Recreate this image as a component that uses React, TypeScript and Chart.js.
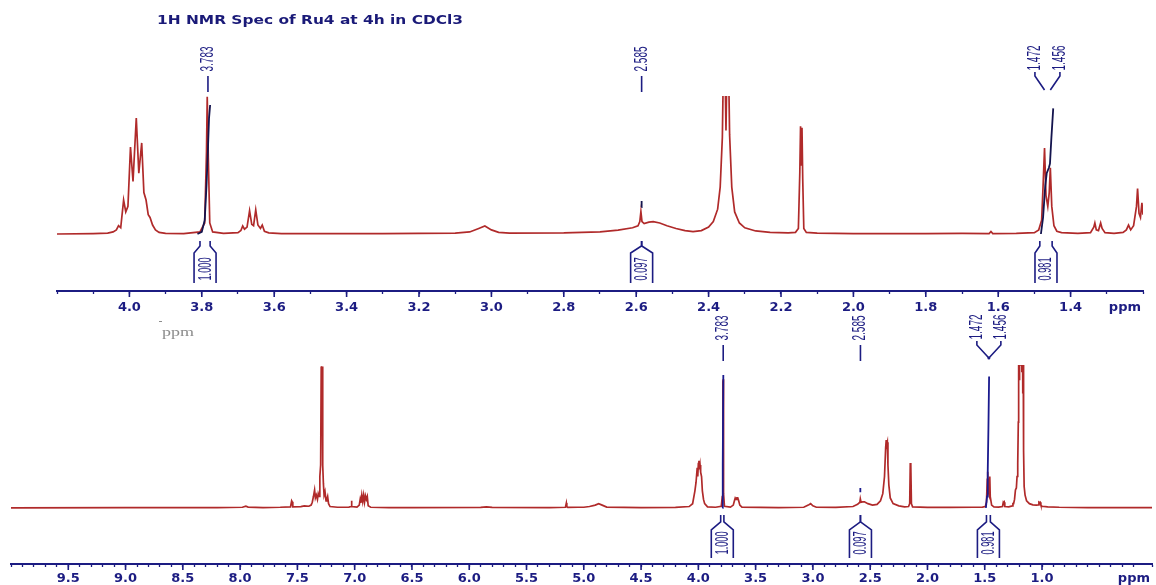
import React, { useEffect, useRef } from "react";
import { Chart, registerables } from "chart.js";

Chart.register(...registerables);

// ---------------- data ----------------
const TITLE = "1H NMR Spec of Ru4 at 4h in CDCl3";

// Upper panel: expanded region 4.2 – 1.2 ppm
const topPpm = [
  4.2, 4.1, 4.06, 4.045, 4.036, 4.03, 4.024, 4.016, 4.01, 4.004, 3.997, 3.99, 3.981, 3.974, 3.966, 3.96,
  3.954, 3.948, 3.943, 3.936, 3.928, 3.918, 3.9, 3.85, 3.805, 3.792, 3.787, 3.785, 3.782, 3.778, 3.77,
  3.74, 3.7, 3.692, 3.687, 3.682, 3.675, 3.668, 3.662, 3.657, 3.651, 3.645, 3.638, 3.633, 3.627, 3.615,
  3.58, 3.3, 3.1, 3.06, 3.035, 3.018, 3.0, 2.98, 2.95, 2.8, 2.7, 2.65, 2.61, 2.595, 2.59, 2.587, 2.584,
  2.578, 2.565, 2.553, 2.535, 2.515, 2.49, 2.465, 2.443, 2.42, 2.4, 2.387, 2.375, 2.368, 2.362, 2.357,
  2.352, 2.347, 2.342, 2.336, 2.328, 2.315, 2.3, 2.27, 2.23, 2.18, 2.16, 2.152, 2.148, 2.146, 2.144,
  2.142, 2.14, 2.137, 2.13, 2.1, 2.0, 1.8, 1.7, 1.625, 1.62, 1.615, 1.55, 1.5, 1.488, 1.48, 1.476, 1.472,
  1.468, 1.463, 1.459, 1.456, 1.452, 1.446, 1.438, 1.425, 1.38, 1.345, 1.336, 1.333, 1.329, 1.323, 1.317,
  1.313, 1.305, 1.28, 1.255, 1.246, 1.24, 1.234, 1.226, 1.218, 1.215, 1.211, 1.207, 1.203, 1.2,
];
const topIntensity = [
  0, 0.3, 0.6, 1.5, 3, 6, 4.5, 24.6, 16, 20, 63, 38, 84, 44, 66, 30,
  24.6, 14, 12, 6.5, 3, 1.2, 0.5, 0.3, 1.5, 8, 60, 99.5, 55, 8, 1.5,
  0.4, 1, 2.5, 5.8, 3.5, 5, 16.9, 7, 6, 17.5, 6.5, 4, 6.5, 2, 0.8,
  0.3, 0.3, 0.6, 1.5, 4, 5.8, 3, 1.2, 0.6, 0.8, 1.6, 2.8, 4.5, 6, 9, 16.2, 9,
  7.5, 8.6, 8.9, 8, 6, 4, 2.5, 1.7, 2.5, 5, 9, 18, 34, 70, 160,
  75, 160, 72, 34, 16, 8, 4.5, 2.2, 1.2, 0.8, 1.2, 4, 45, 78, 50,
  77, 40, 4, 1.2, 0.6, 0.3, 0.3, 0.5, 0.3, 1.8, 0.3, 0.4, 1, 3, 10, 35, 62.3,
  28, 20, 30, 48, 20, 6, 2, 1, 0.5, 1, 5, 8, 3, 2.5, 8,
  4, 1, 0.5, 1.2, 3, 6.5, 3, 6, 20, 33, 15, 12, 22.5, 14,
];
// integral trace (null separates the three integrals)
const topIntegralPpm = [3.812, 3.8, 3.792, 3.787, 3.783, 3.78, 3.777, 3.0, 2.586, 2.585, 2.0, 1.482, 1.476, 1.47, 1.466, 1.46, 1.457, 1.453, 1.448];
const topIntegralValue = [0, 1.5, 10, 35, 62, 84, 93.5, null, 19.5, 24, null, 0, 12, 35, 44, 48, 51, 70, 91];
const topMajorLabels = ["4.0", "3.8", "3.6", "3.4", "3.2", "3.0", "2.8", "2.6", "2.4", "2.2", "2.0", "1.8", "1.6", "1.4"];

// Lower panel: full spectrum 10 – 0 ppm
const botPpm = [
  10.0, 9.0, 8.2, 7.98, 7.95, 7.93, 7.8, 7.65, 7.56, 7.55, 7.546, 7.54, 7.47, 7.44, 7.4, 7.38, 7.37, 7.36,
  7.35, 7.343, 7.335, 7.325, 7.318, 7.31, 7.304, 7.297, 7.292, 7.288, 7.284, 7.279, 7.273, 7.267, 7.259,
  7.25, 7.243, 7.236, 7.228, 7.215, 7.15, 7.05, 7.032, 7.028, 7.024, 6.98, 6.96, 6.952, 6.946, 6.938,
  6.93, 6.922, 6.914, 6.906, 6.898, 6.89, 6.882, 6.86, 6.7, 6.5, 5.9, 5.85, 5.8, 5.3, 5.16, 5.152, 5.148,
  5.14, 5.05, 5.0, 4.95, 4.9, 4.87, 4.84, 4.8, 4.5, 4.2, 4.08, 4.05, 4.03, 4.02, 4.01, 4.005, 4.0, 3.995,
  3.99, 3.985, 3.98, 3.972, 3.965, 3.955, 3.945, 3.92, 3.85, 3.8, 3.791, 3.786, 3.783, 3.78, 3.772, 3.72,
  3.695, 3.685, 3.678, 3.67, 3.663, 3.656, 3.648, 3.638, 3.62, 3.3, 3.08, 3.04, 3.02, 3.0, 2.97, 2.8,
  2.65, 2.61, 2.59, 2.586, 2.58, 2.565, 2.55, 2.52, 2.48, 2.44, 2.41, 2.39, 2.375, 2.365, 2.36, 2.356,
  2.35, 2.345, 2.337, 2.325, 2.3, 2.25, 2.2, 2.165, 2.155, 2.15, 2.147, 2.144, 2.14, 2.13, 2.0, 1.8, 1.6,
  1.52, 1.495, 1.485, 1.478, 1.474, 1.47, 1.464, 1.46, 1.456, 1.452, 1.44, 1.42, 1.38, 1.345, 1.338,
  1.334, 1.33, 1.325, 1.29, 1.26, 1.254, 1.248, 1.24, 1.232, 1.224, 1.218, 1.212, 1.207, 1.204, 1.2,
  1.196, 1.192, 1.188, 1.184, 1.18, 1.176, 1.172, 1.168, 1.165, 1.161, 1.156, 1.148, 1.135, 1.11, 1.08,
  1.05, 1.032, 1.027, 1.022, 1.017, 1.01, 1.0, 0.95, 0.85, 0.6, 0.3, 0.04,
];
const botIntensity = [
  0, 0.2, 0.2, 0.5, 1.2, 0.6, 0.3, 0.5, 0.8, 5, 4.4, 0.8, 1, 1.5, 1.2, 2, 4, 8,
  12.6, 7, 9, 6, 10, 8, 22, 30, 99, 96, 99, 30, 17, 9, 11.4,
  5, 6, 8, 3, 1, 0.5, 0.6, 1, 5, 1, 0.6, 2, 6, 3.5, 9,
  4.5, 9, 4, 8.5, 6, 8, 1.5, 0.5, 0.3, 0.3, 0.4, 0.8, 0.4, 0.3, 0.5, 3.5, 1,
  0.4, 0.5, 0.5, 1, 2, 3, 2, 0.6, 0.3, 0.4, 1, 3, 12, 18, 28, 22, 31, 33,
  27, 30, 25, 22, 12, 6, 3, 0.8, 0.5, 1.2, 8, 88, 90, 10, 1.2, 0.6,
  2, 5, 7, 6, 7, 7, 5, 2, 0.6, 0.3, 0.5, 2, 3, 1.5, 0.5, 0.4,
  1, 2.5, 4, 6.3, 4, 4.2, 4.3, 3, 2, 2.5, 5, 10, 22, 42, 47.5, 44,
  46, 30, 16, 7, 3, 1.5, 0.8, 1, 3, 31.5, 20, 30, 3, 0.8, 0.4, 0.4, 0.5,
  0.6, 1, 4, 20, 25.4, 12, 10, 20, 22, 8, 2, 0.8, 0.6, 1, 4,
  3.5, 4, 1, 0.8, 1.5, 3, 3, 6, 12.6, 14, 22, 31, 60, 150, 90,
  160, 100, 160, 100, 160, 95, 150, 80, 120, 40, 15, 9, 5, 3, 2.2,
  2, 2.2, 4, 3.7, 4, 2, 1.2, 0.8, 0.5, 0.3, 0.3, 0.3,
];
const botIntegralPpm = [3.79, 3.787, 3.782, 3.0, 2.586, 2.586, 2.0, 1.49, 1.48, 1.474, 1.468, 1.462];
const botIntegralValue = [0, 30, 93, null, 11, 14, null, 0, 8, 25, 55, 92];
const botMajorLabels = ["9.5", "9.0", "8.5", "8.0", "7.5", "7.0", "6.5", "6.0", "5.5", "5.0", "4.5", "4.0", "3.5", "3.0", "2.5", "2.0", "1.5", "1.0"];

// annotations (shared by both panels)
const peakLabelText = ["3.783", "2.585"];
const peakLabelPpm = [3.783, 2.585];
const pairLabelText = ["1.472", "1.456"];
const pairLabelPpm = [1.472, 1.456];
const integralText = ["1.000", "0.097", "0.981"];
const integralStart = [3.805, 2.5855, 1.485];
const integralEnd = [3.777, 2.5845, 1.451];

// ---------------- styling ----------------
const NAVY = "#1c1c82";
const RED = "#b02a2a";
const TICK_FONT = { family: '"DejaVu Sans", "Liberation Sans", sans-serif', size: 13, weight: "bold" as const };

function vText(ctx: CanvasRenderingContext2D, text: string, x: number, y: number, len: number, size = 18) {
  ctx.save();
  ctx.translate(x, y);
  ctx.rotate(-Math.PI / 2);
  ctx.font = `${size}px "Liberation Sans", Arial, sans-serif`;
  const w = ctx.measureText(text).width;
  ctx.scale(len / w, 1);
  ctx.textAlign = "center";
  ctx.textBaseline = "middle";
  ctx.fillStyle = NAVY;
  ctx.fillText(text, 0, 0);
  ctx.restore();
}

function line(ctx: CanvasRenderingContext2D, pts: number[][]) {
  ctx.beginPath();
  ctx.moveTo(pts[0][0], pts[0][1]);
  for (let i = 1; i < pts.length; i++) ctx.lineTo(pts[i][0], pts[i][1]);
  ctx.stroke();
}

function annotPlugin(spec: any) {
  return {
    id: "nmrAnnot",
    afterDraw(chart: any) {
      const ctx: CanvasRenderingContext2D = chart.ctx;
      const { chartArea } = chart;
      const xs = chart.scales.x;
      const ys = chart.scales.y;
      const top = chartArea.top;
      const base = ys.getPixelForValue(0);
      ctx.save();
      ctx.strokeStyle = NAVY;
      ctx.fillStyle = NAVY;
      ctx.lineWidth = 1.6;

      // longer major ticks
      xs.ticks.forEach((t: any) => {
        if (t.label && t.label !== "") {
          const px = xs.getPixelForValue(t.value);
          line(ctx, [[px, chartArea.bottom], [px, chartArea.bottom + 6]]);
        }
      });

      // single peak labels
      peakLabelText.forEach((txt, i) => {
        const px = xs.getPixelForValue(peakLabelPpm[i]);
        line(ctx, [[px, top - 20], [px, top - 4]]);
        vText(ctx, txt, px, top - 37, 25);
      });
      // paired labels
      const p0 = xs.getPixelForValue(pairLabelPpm[0]);
      const p1 = xs.getPixelForValue(pairLabelPpm[1]);
      const mid = (p0 + p1) / 2;
      const lx = [mid - spec.pairSpread, mid + spec.pairSpread];
      const pk = spec.pairMerge ? [mid, mid] : [p0, p1];
      pairLabelText.forEach((txt, i) => {
        line(ctx, [[lx[i], top - 24], [lx[i], top - 20], [pk[i], top - spec.pairEnd]]);
        vText(ctx, txt, lx[i], top - 38, 25);
      });
      if (spec.pairMerge) {
        ctx.beginPath();
        ctx.arc(mid, top - spec.pairEnd, 1.5, 0, Math.PI * 2);
        ctx.fill();
      }

      // integral brackets
      const b = spec.bracket;
      integralText.forEach((txt, i) => {
        const a = xs.getPixelForValue(integralStart[i]);
        const e = xs.getPixelForValue(integralEnd[i]);
        const c = (a + e) / 2;
        const hw = 11;
        line(ctx, [[a, base + b[0]], [a, base + b[1]], [c - hw, base + b[2]], [c - hw, base + b[3]]]);
        line(ctx, [[e, base + b[0]], [e, base + b[1]], [c + hw, base + b[2]], [c + hw, base + b[3]]]);
        vText(ctx, txt, c + 0.5, base + 35, 23);
      });

      // "ppm" at end of axis
      ctx.font = 'bold 13px "DejaVu Sans", "Liberation Sans", sans-serif';
      ctx.textAlign = "right";
      ctx.textBaseline = "middle";
      ctx.fillText("ppm", chartArea.right - 2, chartArea.bottom + spec.ppmDy);

      if (spec.title) {
        ctx.font = 'bold 13px "DejaVu Sans", "Liberation Sans", sans-serif';
        const w = ctx.measureText(TITLE).width;
        ctx.save();
        ctx.translate(157, 21);
        ctx.scale(306 / w, 1);
        ctx.textAlign = "left";
        ctx.fillStyle = "#1a1a78";
        ctx.fillText(TITLE, 0, 0);
        ctx.restore();

        // faint secondary axis unit
        ctx.fillStyle = "#8c8c8c";
        ctx.font = '13px "Liberation Serif", "DejaVu Serif", serif';
        const w2 = ctx.measureText("ppm").width;
        ctx.save();
        ctx.translate(162, 333);
        ctx.scale(32 / w2, 1);
        ctx.textAlign = "left";
        ctx.fillText("ppm", 0, 0);
        ctx.restore();
        ctx.fillRect(159, 321, 3, 1);
      }
      ctx.restore();
    },
  };
}

function makePanel(canvas: HTMLCanvasElement, spec: any) {
  const spectrum = spec.ppm.map((x: number, i: number) => ({ x, y: spec.intensity[i] }));
  const integral = spec.intPpm.map((x: number, i: number) => ({ x, y: spec.intValue[i] }));
  return new Chart(canvas, {
    type: "line",
    data: {
      datasets: [
        { data: integral, borderColor: spec.intColor, borderWidth: 1.8, pointRadius: 0, tension: 0, spanGaps: false, fill: false },
        { data: spectrum, borderColor: RED, borderWidth: 1.7, pointRadius: 0, tension: 0, fill: false },
      ],
    },
    options: {
      responsive: false,
      animation: false,
      devicePixelRatio: 1,
      events: [],
      layout: { padding: spec.padding },
      plugins: { legend: { display: false }, tooltip: { enabled: false }, title: { display: false } },
      scales: {
        x: {
          type: "linear",
          reverse: true,
          min: spec.xMin,
          max: spec.xMax,
          afterFit: (s: any) => {
            s.height = spec.axisHeight;
          },
          border: { display: true, color: NAVY, width: 2 },
          grid: { drawOnChartArea: false, drawTicks: true, tickLength: 3, color: NAVY, tickWidth: 1.3 },
          ticks: {
            stepSize: 0.1,
            autoSkip: false,
            maxRotation: 0,
            minRotation: 0,
            padding: spec.tickPad,
            color: NAVY,
            font: TICK_FONT,
            callback: (v: any) => {
              const s = Number(v).toFixed(1);
              return spec.majors.includes(s) ? s : "";
            },
          },
        },
        y: { type: "linear", display: false, min: spec.yMin, max: spec.yMax },
      },
    } as any,
    plugins: [annotPlugin(spec)],
  });
}

const TOP_SPEC = {
  ppm: topPpm,
  intensity: topIntensity,
  intPpm: topIntegralPpm,
  intValue: topIntegralValue,
  intColor: "#14144e",
  majors: topMajorLabels,
  xMin: 1.2,
  xMax: 4.2,
  yMin: -41.3,
  yMax: 100,
  padding: { left: 57, right: 13, top: 96, bottom: 0 },
  axisHeight: 54,
  tickPad: 6,
  ppmDy: 17,
  pairSpread: 12.5,
  pairMerge: false,
  pairEnd: 6,
  bracket: [7, 12, 19, 49],
  title: true,
};

const BOT_SPEC = {
  ppm: botPpm,
  intensity: botIntensity,
  intPpm: botIntegralPpm,
  intValue: botIntegralValue,
  intColor: "#1a1a8e",
  majors: botMajorLabels,
  xMin: 0.04,
  xMax: 10.0,
  yMin: -39.2,
  yMax: 100,
  padding: { left: 11, right: 3, top: 55, bottom: 0 },
  axisHeight: 21,
  tickPad: 4,
  ppmDy: 15,
  pairSpread: 12,
  pairMerge: true,
  pairEnd: 7,
  bracket: [7, 14, 22, 50],
  title: false,
};

export default function App() {
  const topRef = useRef<HTMLCanvasElement>(null);
  const botRef = useRef<HTMLCanvasElement>(null);
  useEffect(() => {
    const c1 = makePanel(topRef.current!, TOP_SPEC);
    const c2 = makePanel(botRef.current!, BOT_SPEC);
    return () => {
      c1.destroy();
      c2.destroy();
    };
  }, []);
  return (
    <div style={{ position: "fixed", left: 0, top: 0, width: 1156, height: 585, background: "#fff", overflow: "hidden" }}>
      <canvas ref={topRef} width={1156} height={345} style={{ position: "absolute", left: 0, top: 0 }} />
      <canvas ref={botRef} width={1156} height={275} style={{ position: "absolute", left: 0, top: 310 }} />
    </div>
  );
}
